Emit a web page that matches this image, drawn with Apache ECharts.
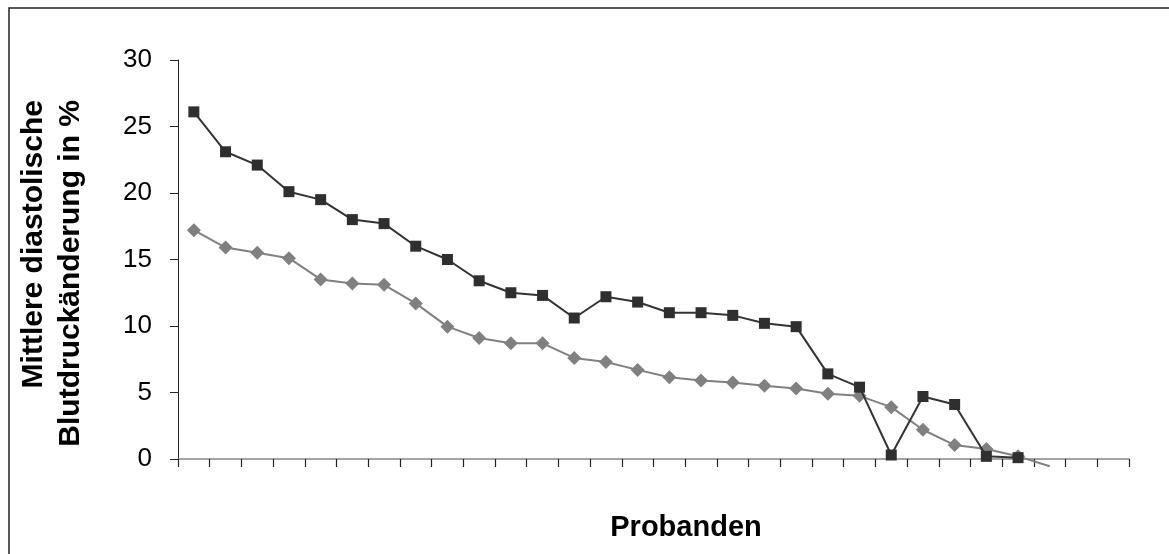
<!DOCTYPE html>
<html lang="de">

<head>
    <title>echarts</title>
    <meta http-equiv="content-type" content="text/html; charset=utf-8">
    <script src="https://cdn.jsdelivr.net/npm/echarts@6/dist/echarts.min.js"></script>
</head>

<style>
    * {
        margin: 0;
        padding: 0;
        box-sizing: border-box;
    }

    html,
    body {
        width: 100%;
        height: 100%;
        background: #fff;
    }

    #main {
        width: 1169px;
        height: 554px;
    }
</style>

<body>
    <div id="main"></div>
</body>
<script>
    // 30 Probanden auf der x-Achse (ohne Beschriftung)
    const probanden = Array.from({ length: 30 }, (_, i) => String(i + 1));

    // schwarze Quadrate
    const reiheA = [26.1, 23.1, 22.1, 20.1, 19.5, 18.0, 17.7, 16.0, 15.0, 13.4,
        12.5, 12.3, 10.6, 12.2, 11.8, 11.0, 11.0, 10.8, 10.2, 9.95,
        6.4, 5.4, 0.3, 4.7, 4.1, 0.2, 0.1];

    // graue Rauten
    const reiheB = [17.2, 15.9, 15.5, 15.1, 13.5, 13.2, 13.1, 11.7, 9.95, 9.1,
        8.7, 8.7, 7.6, 7.3, 6.7, 6.15, 5.9, 5.75, 5.5, 5.3,
        4.9, 4.75, 3.9, 2.2, 1.05, 0.75, 0.2, -0.55];

    const yTicks = [0, 5, 10, 15, 20, 25, 30];

    const font = '"Liberation Sans", Arial, sans-serif';

    const myChart = echarts.init(document.getElementById('main'));

    myChart.setOption({
        animation: false,
        backgroundColor: '#fff',
        grid: { left: 178, right: 40, top: 60, bottom: 95 },
        xAxis: {
            type: 'category',
            data: probanden,
            boundaryGap: true,
            axisLine: { lineStyle: { color: '#868686', width: 1.5 } },
            axisTick: { show: true, interval: 0, length: 8, lineStyle: { color: '#222', width: 1.2 } },
            axisLabel: { show: false, interval: 0 },
            splitLine: { show: false }
        },
        yAxis: {
            type: 'value',
            min: yTicks[0],
            max: yTicks[yTicks.length - 1],
            interval: 5,
            axisLine: { show: true, lineStyle: { color: '#222' } },
            axisTick: { show: true, length: 8, lineStyle: { color: '#222' } },
            axisLabel: { margin: 26, color: '#000', fontSize: 26, fontFamily: font },
            splitLine: { show: false }
        },
        series: [
            {
                type: 'line',
                data: reiheB.map((v, i) => i === reiheB.length - 1 ? { value: v, symbol: 'none' } : v),
                symbol: 'diamond',
                symbolSize: 14,
                clip: false,
                z: 2,
                lineStyle: { color: '#808080', width: 2 },
                itemStyle: { color: '#808080' }
            },
            {
                type: 'line',
                data: reiheA,
                symbol: 'rect',
                symbolSize: 11,
                clip: false,
                z: 3,
                lineStyle: { color: '#333', width: 2 },
                itemStyle: { color: '#2f2f2f' }
            }
        ],
        graphic: [
            {
                type: 'polyline',
                shape: { points: [[9, 554], [9, 8], [1169, 8]] },
                style: { stroke: '#222', lineWidth: 1.5, fill: null }
            },
            {
                type: 'text',
                x: 52,
                y: 100,
                rotation: Math.PI / 2,
                style: {
                    text: 'Mittlere diastolische\nBlutdruckänderung in %',
                    font: 'bold 30px ' + font,
                    lineHeight: 37,
                    fill: '#000',
                    align: 'right',
                    verticalAlign: 'middle'
                }
            },
            {
                type: 'text',
                x: 686,
                y: 528,
                style: {
                    text: 'Probanden',
                    font: 'bold 29px ' + font,
                    fill: '#000',
                    align: 'center',
                    verticalAlign: 'middle'
                }
            }
        ]
    });
</script>

</html>
